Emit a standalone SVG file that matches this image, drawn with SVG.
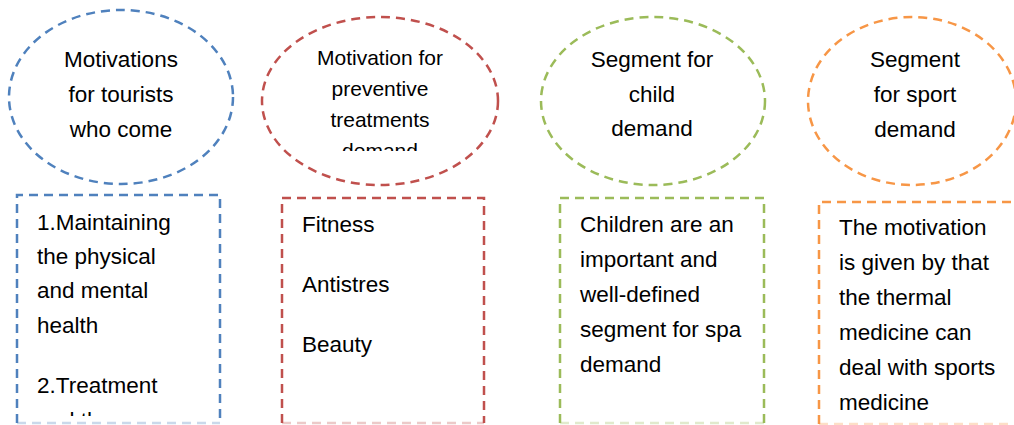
<svg xmlns="http://www.w3.org/2000/svg" width="1014" height="425" viewBox="0 0 1014 425">
<style>
  .shape { fill: none; stroke-width: 2.5; stroke-dasharray: 9 6; }
  .faint { opacity: 0.3; }
  .blue { stroke: #4F81BD; }
  .red { stroke: #C0504D; }
  .green { stroke: #9BBB59; }
  .orange { stroke: #F79646; }
  text { font-family: "Liberation Sans", Arial, sans-serif; fill: #000; font-size: 22.5px; }
  .c { text-anchor: middle; }
  .small { font-size: 21px; }
</style>
<defs>
  <clipPath id="clipRed"><rect x="260" y="15" width="240" height="136"/></clipPath>
  <clipPath id="clipBlueBox"><rect x="17" y="195" width="203" height="221"/></clipPath>
</defs>
<rect x="0" y="0" width="1014" height="425" fill="#fff"/>

<g id="node-tourists">
  <ellipse class="shape blue" cx="121" cy="97" rx="112" ry="87"/>
  <text class="c" x="121" y="67">Motivations</text>
  <text class="c" x="121" y="102">for tourists</text>
  <text class="c" x="121" y="137">who come</text>
</g>

<g id="node-preventive">
  <ellipse class="shape red" cx="380" cy="101" rx="118" ry="84"/>
  <g clip-path="url(#clipRed)">
    <text class="c small" x="380" y="65">Motivation for</text>
    <text class="c small" x="380" y="96">preventive</text>
    <text class="c small" x="380" y="127">treatments</text>
    <text class="c small" x="380" y="158">demand</text>
  </g>
</g>

<g id="node-child">
  <ellipse class="shape green" cx="653" cy="101" rx="112" ry="84"/>
  <text class="c" x="652" y="67">Segment for</text>
  <text class="c" x="652" y="102">child</text>
  <text class="c" x="652" y="136">demand</text>
</g>

<g id="node-sport">
  <ellipse class="shape orange" cx="912" cy="101" rx="104" ry="84"/>
  <text class="c" x="915" y="67">Segment</text>
  <text class="c" x="915" y="102">for sport</text>
  <text class="c" x="915" y="137">demand</text>
</g>

<g id="box-tourists">
  <path class="shape blue" d="M17 423 V195 H220 V423"/>
  <line class="shape blue faint" x1="17" y1="423" x2="220" y2="423"/>
  <g clip-path="url(#clipBlueBox)">
    <text x="37" y="230">1.Maintaining</text>
    <text x="37" y="264">the physical</text>
    <text x="37" y="298">and mental</text>
    <text x="37" y="333">health</text>
    <text x="37" y="393">2.Treatment</text>
    <text x="37" y="428">and the</text>
  </g>
</g>

<g id="box-preventive">
  <path class="shape red" d="M282 423 V198 H484 V423"/>
  <line class="shape red faint" x1="282" y1="423" x2="484" y2="423"/>
  <text x="302" y="232">Fitness</text>
  <text x="302" y="292">Antistres</text>
  <text x="302" y="352">Beauty</text>
</g>

<g id="box-child">
  <path class="shape green" d="M560 423 V198 H764 V423"/>
  <line class="shape green faint" x1="560" y1="423" x2="764" y2="423"/>
  <text x="580" y="232">Children are an</text>
  <text x="580" y="267">important and</text>
  <text x="580" y="302">well-defined</text>
  <text x="580" y="337">segment for spa</text>
  <text x="580" y="372">demand</text>
</g>

<g id="box-sport">
  <path class="shape orange" d="M819 424 V202 H1020"/>
  <line class="shape orange faint" x1="819" y1="424" x2="1014" y2="424"/>
  <text x="839" y="235">The motivation</text>
  <text x="839" y="270">is given by that</text>
  <text x="839" y="305">the thermal</text>
  <text x="839" y="340">medicine can</text>
  <text x="839" y="375">deal with sports</text>
  <text x="839" y="410">medicine</text>
</g>

<g id="connectors"></g>
</svg>
